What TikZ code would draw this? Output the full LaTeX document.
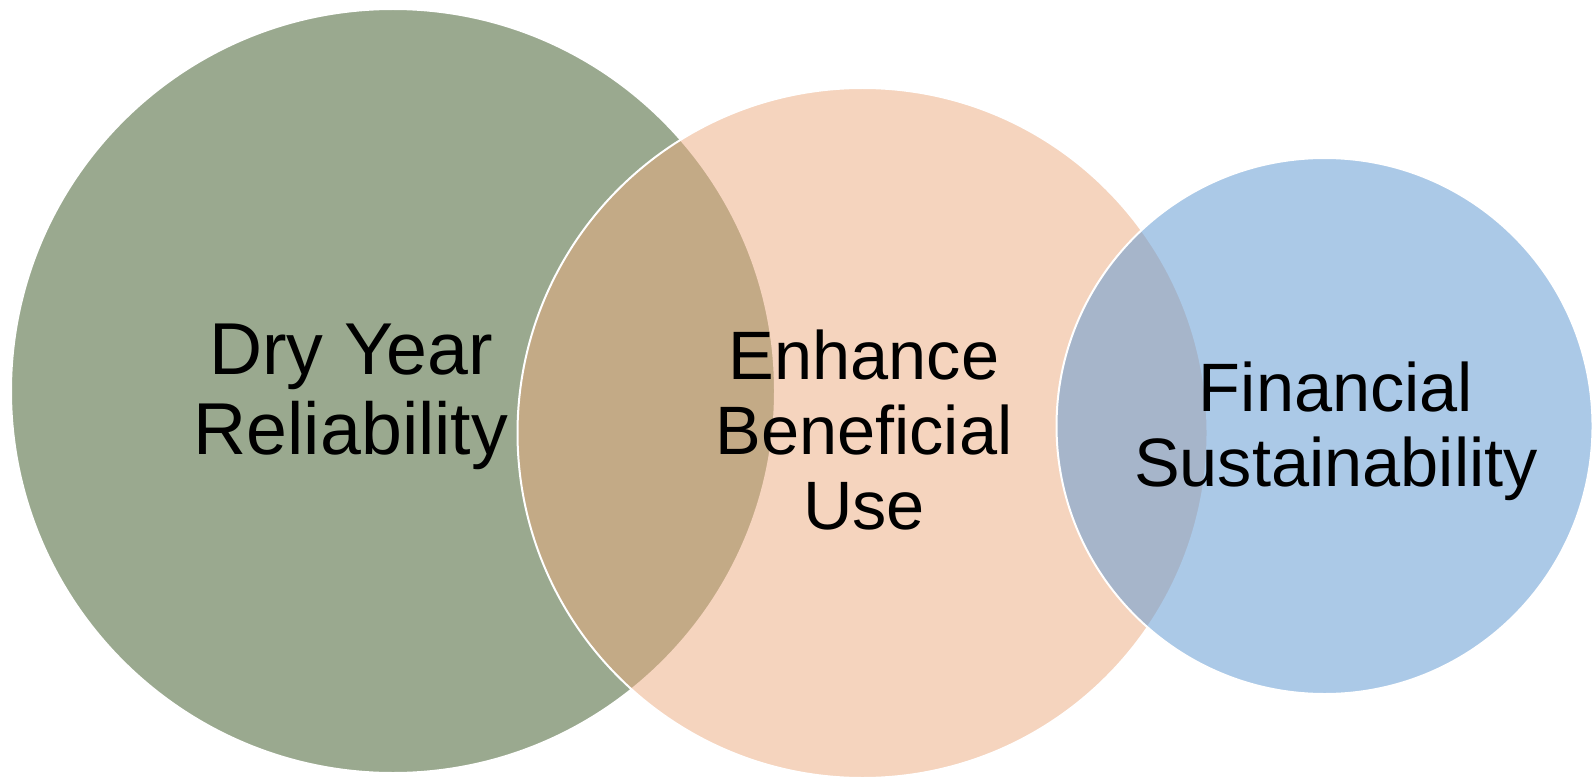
\documentclass[tikz,border=0pt]{standalone}
\usepackage{fontspec}
\setmainfont{Liberation Sans}
\definecolor{cgreen}{RGB}{154,169,143}
\definecolor{cpeach}{RGB}{237,171,127}
\definecolor{cblue}{RGB}{102,157,213}
\begin{document}
\begin{tikzpicture}[x=1pt,y=-1pt,
  venn/.style={circle, draw=white, line width=2pt, inner sep=0pt, outer sep=0pt},
  lblbig/.style={anchor=base, inner sep=0pt, text=black, font=\fontsize{73.5}{80}\selectfont},
  lblsmall/.style={anchor=base, inner sep=0pt, text=black, font=\fontsize{68.5}{75}\selectfont}]
\useasboundingbox[fill=white] (0,0) rectangle (1594,778);
\node[venn, fill=cgreen, minimum size=764pt] (green) at (393,391) {};
\node[venn, fill=cpeach, fill opacity=0.5, draw opacity=1, minimum size=690pt] (peach) at (862.5,433) {};
\node[venn, fill=cblue, fill opacity=0.55, draw opacity=1, minimum size=536pt] (blue) at (1324.5,426) {};
\node[lblbig] (dry) at (351,374) {\begin{tabular}[t]{@{}c@{}}Dry Year\\Reliability\end{tabular}};
\node[lblsmall] (enh) at (864,379) {\begin{tabular}[t]{@{}c@{}}Enhance\\Beneficial\\Use\end{tabular}};
\node[lblsmall] (fin) at (1336,411) {\begin{tabular}[t]{@{}c@{}}Financial\\Sustainability\end{tabular}};
\end{tikzpicture}
\end{document}
